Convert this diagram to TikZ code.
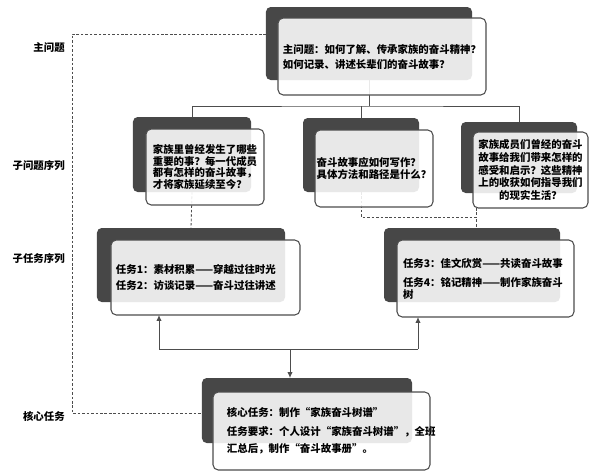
\documentclass[tikz,border=0pt]{standalone}
\usepackage{fontspec}
\setmainfont{Noto Sans CJK SC}
\usepackage{tikz}
\usetikzlibrary{arrows.meta, calc}

\definecolor{darkbox}{HTML}{474747}
\definecolor{edge}{HTML}{4D4D4D}
\newcommand{\boxfont}{\fontsize{8.9pt}{10.2pt}\selectfont\bfseries}

\begin{document}
\begin{tikzpicture}[
      x=0.03cm, y=-0.03cm,
      back/.style={fill=darkbox, rounded corners=4pt, inner sep=0pt, outer sep=0pt},
      front/.style={draw=edge, line width=0.9pt, fill=white, fill opacity=0.88, text opacity=1,
        rounded corners=4.5pt, inner sep=0pt, outer sep=0pt, font=\boxfont},
      lbl/.style={anchor=east, inner sep=0pt, font=\boxfont},
      link/.style={draw=edge, line width=0.8pt},
      guide/.style={draw=edge, line width=0.7pt, dash pattern=on 2.2pt off 1.6pt},
      arr/.style={link, -{Latex[length=5pt, width=4.5pt]}},
    ]
      \useasboundingbox (0,0) rectangle (591,471);

      \node[lbl] (l1) at (65,48) {主问题};
      \node[lbl] (l2) at (65,166) {子问题序列};
      \node[lbl] (l3) at (65,259) {子任务序列};
      \node[lbl] (l4) at (65,416) {核心任务};

      \node[back, minimum width=6.18cm, minimum height=2.19cm] (topb) at (369,43.5) {};
      \node[back, minimum width=3.54cm, minimum height=2.25cm] (q1b) at (192,154.5) {};
      \node[back, minimum width=3.48cm, minimum height=2.22cm] (q2b) at (361,155) {};
      \node[back, minimum width=3.48cm, minimum height=2.13cm] (q3b) at (519,157.5) {};
      \node[back, minimum width=5.64cm, minimum height=2.22cm] (t1b) at (191,265) {};
      \node[back, minimum width=5.28cm, minimum height=2.22cm] (t2b) at (472,265) {};
      \node[back, minimum width=6.30cm, minimum height=1.95cm] (coreb) at (307,410.5) {};

      \coordinate (hub) at (369,106);
      \coordinate (bend) at (476,217);
      \coordinate (lt) at (72,34);
      \coordinate (lb) at (72,413);

      \draw[link] (topb.south) -- (hub);
      \draw[link] (q1b.north) |- (hub) -| (q3b.north);
      \draw[link] (q2b.north) -- (q2b.north |- hub);
      \draw[guide] (q1b.south) -- (t1b.north);
      \draw[guide] (q2b.south) |- (bend) -- (bend |- t2b.north);
      \draw[guide] (topb.west |- lt) -- (lt) -- (lb) -- (coreb.west |- lb);

      \node[front, minimum width=6.24cm, minimum height=2.31cm, align=left] (top) at (382,56.5)
        {主问题：如何了解、传承家族的奋斗精神？\\[2.6pt]如何记录、讲述长辈们的奋斗故事？};
      \node[front, minimum width=3.54cm, minimum height=2.28cm, align=left] (q1) at (205,167)
        {家族里曾经发生了哪些\\重要的事？每一代成员\\都有怎样的奋斗故事，\\才将家族延续至今？};
      \node[front, minimum width=3.54cm, minimum height=2.31cm, align=left] (q2) at (374,168.5)
        {奋斗故事应如何写作？\\具体方法和路径是什么？};
      \node[front, minimum width=3.45cm, minimum height=2.28cm, align=center] (q3) at (530.5,170)
        {家族成员们曾经的奋斗\\[0.6pt]故事给我们带来怎样的\\[0.6pt]感受和启示？这些精神\\[0.6pt]上的收获如何指导我们\\[0.6pt]的现实生活？};
      \node[front, minimum width=5.67cm, minimum height=2.25cm, text width=5.37cm, inner xsep=0.15cm, align=left] (t1) at (205.5,277.5)
        {任务1：素材积累——穿越过往时光\\[3.4pt]任务2：访谈记录——奋斗过往讲述};
      \node[front, minimum width=5.31cm, minimum height=2.31cm, text width=4.95cm, inner xsep=0.18cm, align=left] (t2) at (485.5,278.5)
        {任务3：佳文欣赏——共读奋斗故事\\[6pt]任务4：铭记精神——制作家族奋斗\\树};
      \node[front, minimum width=6.51cm, minimum height=2.34cm, text width=5.67cm, inner xsep=0.42cm, align=left] (core) at (321.5,431)
        {核心任务：制作“家族奋斗树谱”\\[5.5pt]任务要求：个人设计“家族奋斗树谱”，全班\\[4.5pt]汇总后，制作“奋斗故事册”。};

      \coordinate (fork) at (290,349);
      \coordinate (up1) at (159,349);
      \coordinate (up2) at (418,349);
      \draw[guide] (q3.south -| bend) -- (bend);
      \draw[link] (up1) -- (up2);
      \draw[arr] (up1) -- (up1 |- t1.south);
      \draw[arr] (up2) -- (up2 |- t2.south);
      \draw[arr] (fork) -- (fork |- coreb.north);
    \end{tikzpicture}
\end{document}
